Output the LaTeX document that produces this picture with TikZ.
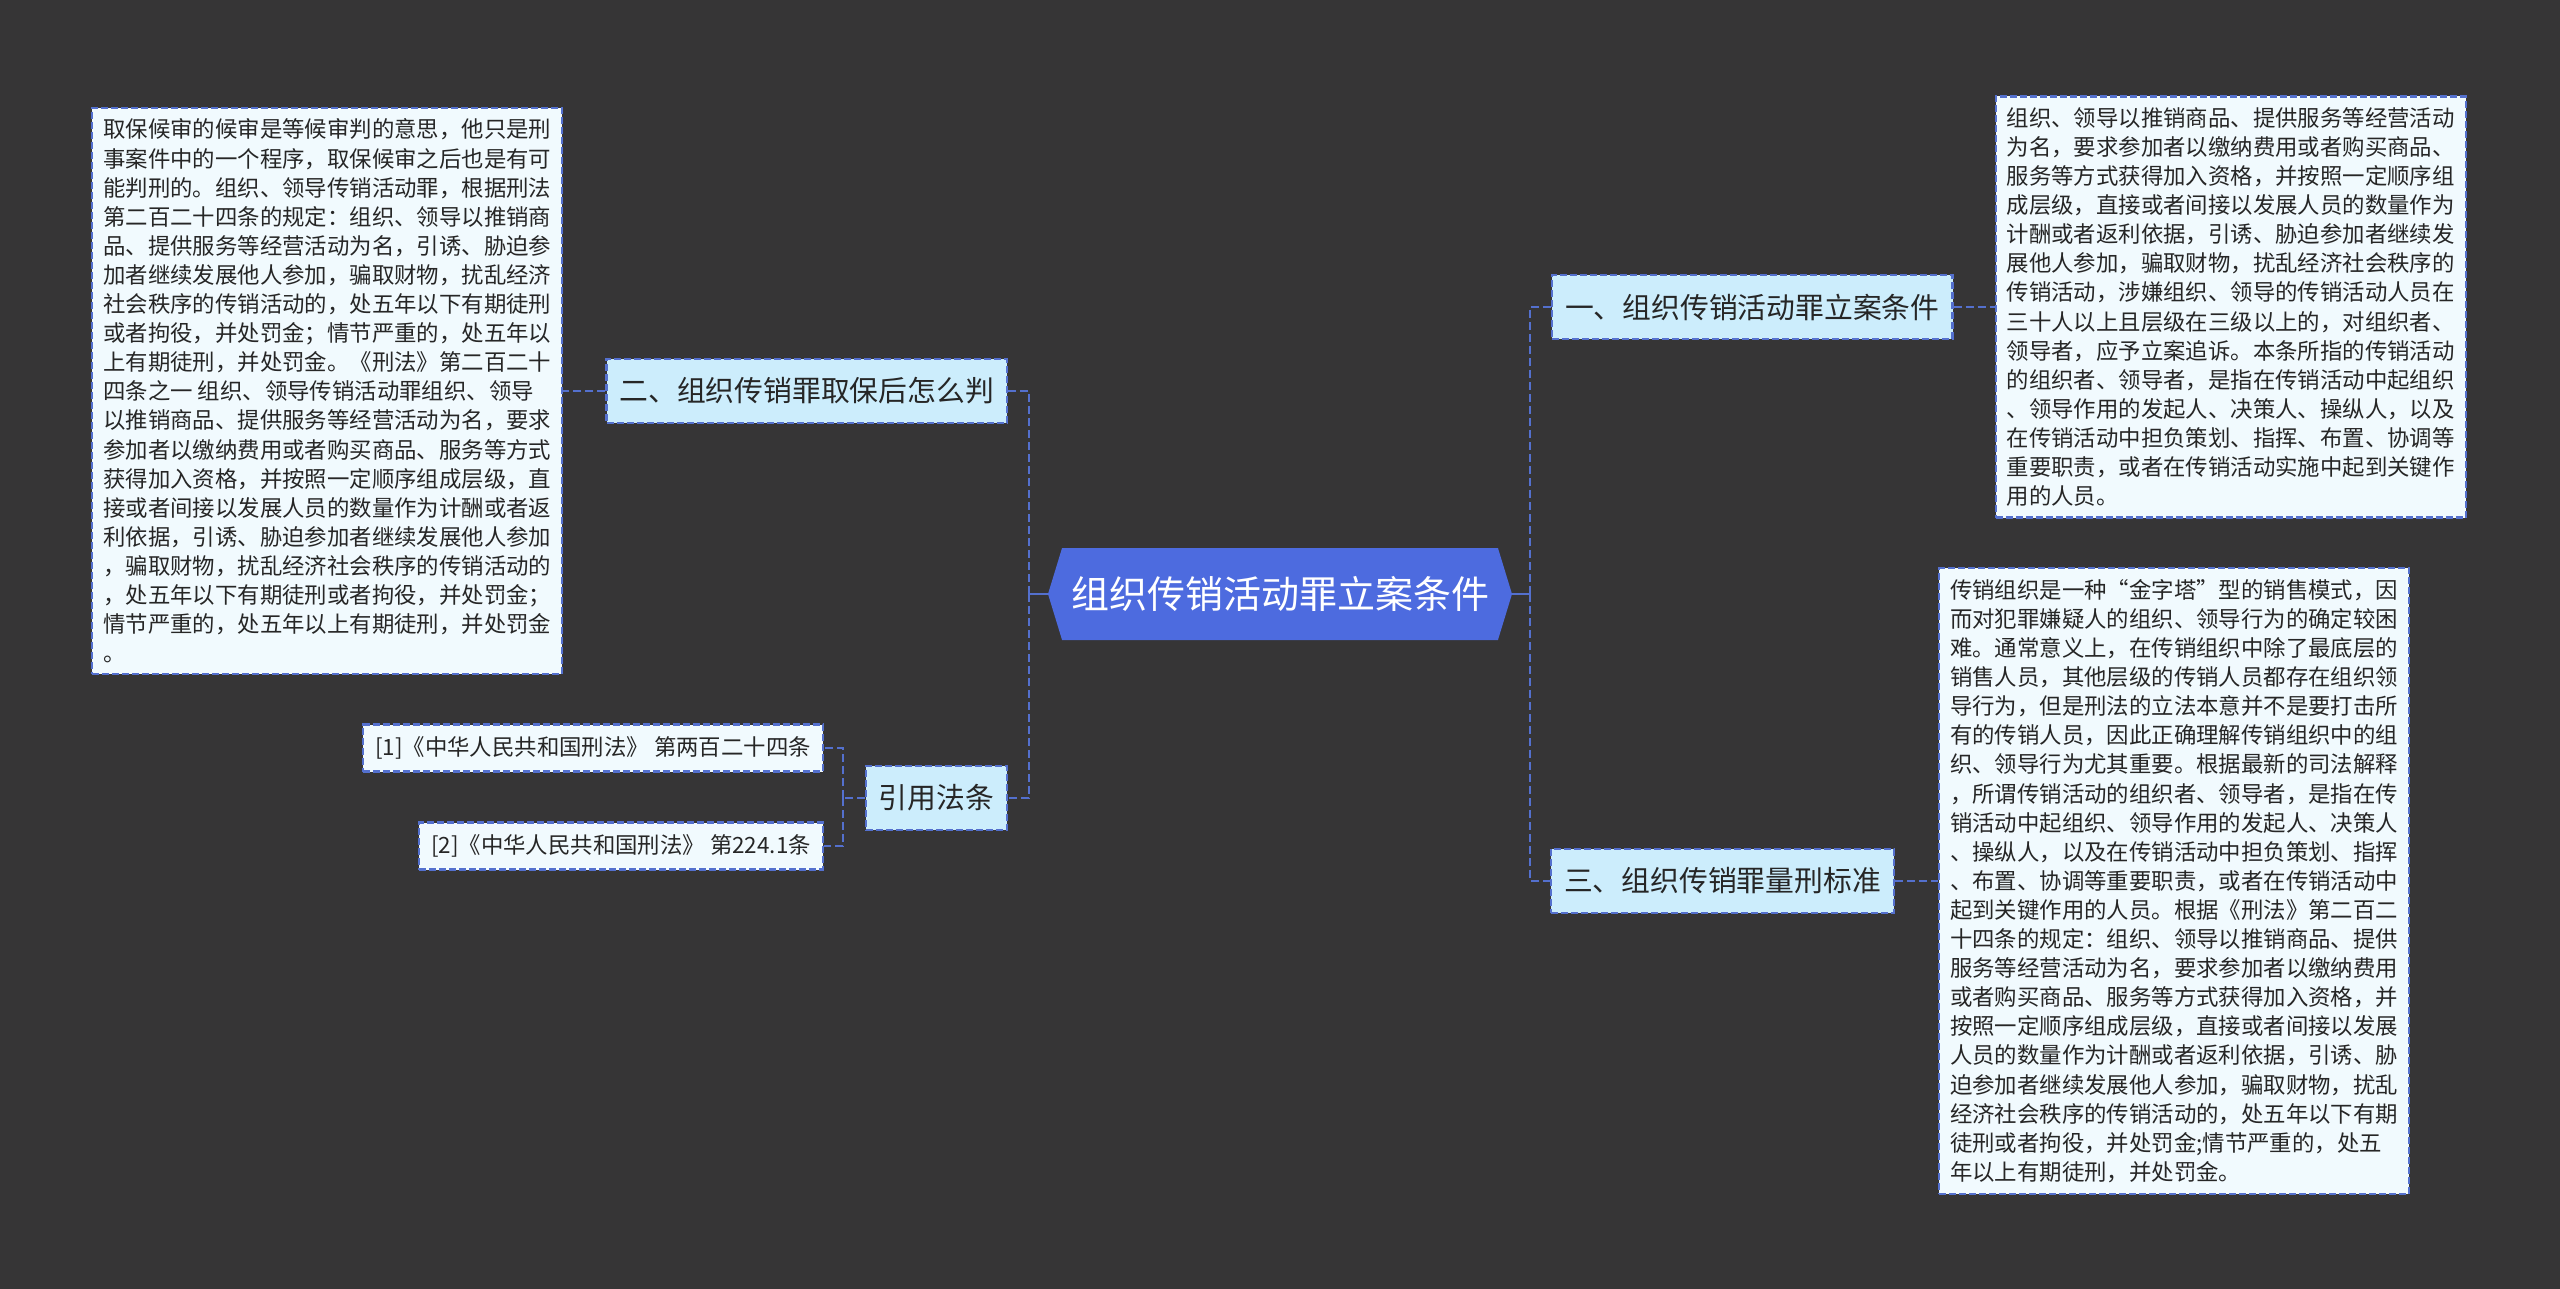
\documentclass[tikz,border=0pt]{standalone}
\usepackage{fontspec}
\setmainfont{Noto Sans CJK SC}
\usetikzlibrary{positioning,shapes.symbols}
\definecolor{MapBg}{RGB}{54,53,54}
\definecolor{MapLine}{RGB}{84,112,206}
\definecolor{MapRoot}{RGB}{77,107,223}
\definecolor{MapBranch}{RGB}{204,237,252}
\definecolor{MapNote}{RGB}{241,250,254}
\definecolor{Ink}{RGB}{38,38,38}
\tikzset{
  linkline/.style={draw=MapLine, line width=1.3pt, dash pattern=on 4pt off 2pt},
  stubline/.style={draw=MapLine, line width=1.4pt},
  rootbox/.style={shape=signal, signal to=west and east, signal pointer angle=146, fill=MapRoot,
    text=white, font=\fontsize{19}{22}\selectfont, minimum height=46pt, minimum width=232pt, inner xsep=2pt},
  branchbox/.style={draw=MapLine, line width=1.1pt, dash pattern=on 3.5pt off 1.5pt, fill=MapBranch,
    text=Ink, font=\fontsize{14.4}{17}\selectfont, minimum height=32pt, inner xsep=6.5pt},
  notebox/.style={draw=MapLine, line width=1.1pt, dash pattern=on 3.5pt off 1.5pt, fill=MapNote,
    text=Ink, align=left, font=\fontsize{11.2}{14.55}\selectfont, inner xsep=5.5pt, inner ysep=5.5pt},
  refbox/.style={draw=MapLine, line width=1.1pt, dash pattern=on 3.5pt off 1.5pt, fill=MapNote,
    text=Ink, font=\fontsize{11.2}{14}\selectfont, minimum height=23.5pt, inner xsep=6pt},
}

\begin{document}
\begin{tikzpicture}[x=0.5pt, y=-0.5pt]
  \fill[MapBg] (0,0) rectangle (2560,1289);
  \useasboundingbox (0,0) rectangle (2560,1289);

  \node[rootbox] (root) at (1280,594) {组织传销活动罪立案条件};

  \node[branchbox, anchor=east] (two) at (1008,391) {二、组织传销罪取保后怎么判};
  \node[branchbox, anchor=east] (cite) at (1008,798) {引用法条};
  \node[branchbox, anchor=west] (one) at (1551,307) {一、组织传销活动罪立案条件};
  \node[branchbox, anchor=west] (three) at (1550,881) {三、组织传销罪量刑标准};

  \node[notebox, left=21pt of two] (bail) {取保候审的候审是等候审判的意思，他只是刑\\
    事案件中的一个程序，取保候审之后也是有可\\
    能判刑的。组织、领导传销活动罪，根据刑法\\
    第二百二十四条的规定：组织、领导以推销商\\
    品、提供服务等经营活动为名，引诱、胁迫参\\
    加者继续发展他人参加，骗取财物，扰乱经济\\
    社会秩序的传销活动的，处五年以下有期徒刑\\
    或者拘役，并处罚金；情节严重的，处五年以\\
    上有期徒刑，并处罚金。《刑法》第二百二十\\
    四条之一 组织、领导传销活动罪组织、领导\\
    以推销商品、提供服务等经营活动为名，要求\\
    参加者以缴纳费用或者购买商品、服务等方式\\
    获得加入资格，并按照一定顺序组成层级，直\\
    接或者间接以发展人员的数量作为计酬或者返\\
    利依据，引诱、胁迫参加者继续发展他人参加\\
    ，骗取财物，扰乱经济社会秩序的传销活动的\\
    ，处五年以下有期徒刑或者拘役，并处罚金；\\
    情节严重的，处五年以上有期徒刑，并处罚金\\
    。};
  \node[refbox, anchor=east] (refa) at (824,748) {[1]《中华人民共和国刑法》 第两百二十四条};
  \node[refbox, anchor=east] (refb) at (824,846) {[2]《中华人民共和国刑法》 第224.1条};

  \node[notebox, right=20.5pt of one] (filing) {组织、领导以推销商品、提供服务等经营活动\\
    为名，要求参加者以缴纳费用或者购买商品、\\
    服务等方式获得加入资格，并按照一定顺序组\\
    成层级，直接或者间接以发展人员的数量作为\\
    计酬或者返利依据，引诱、胁迫参加者继续发\\
    展他人参加，骗取财物，扰乱经济社会秩序的\\
    传销活动，涉嫌组织、领导的传销活动人员在\\
    三十人以上且层级在三级以上的，对组织者、\\
    领导者，应予立案追诉。本条所指的传销活动\\
    的组织者、领导者，是指在传销活动中起组织\\
    、领导作用的发起人、决策人、操纵人，以及\\
    在传销活动中担负策划、指挥、布置、协调等\\
    重要职责，或者在传销活动实施中起到关键作\\
    用的人员。};
  \node[notebox, right=21.5pt of three] (penalty) {传销组织是一种“金字塔”型的销售模式，因\\
    而对犯罪嫌疑人的组织、领导行为的确定较困\\
    难。通常意义上，在传销组织中除了最底层的\\
    销售人员，其他层级的传销人员都存在组织领\\
    导行为，但是刑法的立法本意并不是要打击所\\
    有的传销人员，因此正确理解传销组织中的组\\
    织、领导行为尤其重要。根据最新的司法解释\\
    ，所谓传销活动的组织者、领导者，是指在传\\
    销活动中起组织、领导作用的发起人、决策人\\
    、操纵人，以及在传销活动中担负策划、指挥\\
    、布置、协调等重要职责，或者在传销活动中\\
    起到关键作用的人员。根据《刑法》第二百二\\
    十四条的规定：组织、领导以推销商品、提供\\
    服务等经营活动为名，要求参加者以缴纳费用\\
    或者购买商品、服务等方式获得加入资格，并\\
    按照一定顺序组成层级，直接或者间接以发展\\
    人员的数量作为计酬或者返利依据，引诱、胁\\
    迫参加者继续发展他人参加，骗取财物，扰乱\\
    经济社会秩序的传销活动的，处五年以下有期\\
    徒刑或者拘役，并处罚金;情节严重的，处五\\
    年以上有期徒刑，并处罚金。};

  \coordinate (lhub) at (1029,594);
  \coordinate (rhub) at (1530,594);
  \coordinate (chub) at (843,798);
  \draw[stubline] (root.west) -- (lhub); \draw[stubline] (root.east) -- (rhub);
  \draw[linkline] (lhub) |- (two.east); \draw[linkline] (lhub) |- (cite.east);
  \draw[linkline] (rhub) |- (one.west); \draw[linkline] (rhub) |- (three.west);
  \draw[linkline] (two.west) -- (bail.east);
  \draw[linkline] (cite.west) -- (chub);
  \draw[linkline] (chub) |- (refa.east); \draw[linkline] (chub) |- (refb.east);
  \draw[linkline] (one.east) -- (filing.west);
  \draw[linkline] (three.east) -- (penalty.west);
\end{tikzpicture}
\end{document}
